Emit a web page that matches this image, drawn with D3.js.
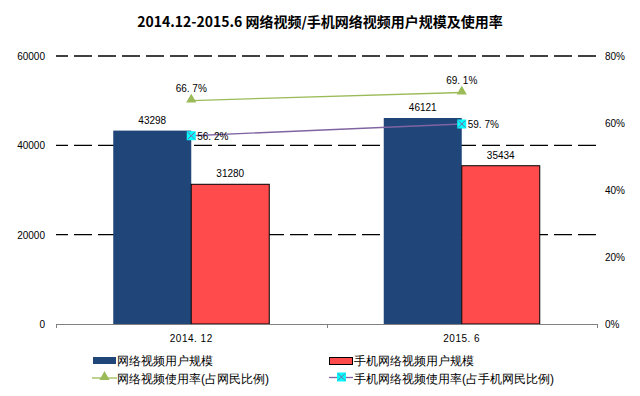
<!DOCTYPE html>
<html>
<head>
<meta charset="utf-8">
<script src="https://cdn.jsdelivr.net/npm/d3@7"></script>
<style>
  body { margin: 0; background: #fff; }
  text { font-family: "Liberation Sans", Arial, sans-serif; }
  .cjk { font-family: "Noto Sans CJK SC", sans-serif; }
</style>
</head>
<body>
<div id="chart"></div>
<script>
const categories = ["2014.12", "2015.6"];
const videoUsers = [43298, 46121];
const mobileUsers = [31280, 35434];
const videoRate = [0.667, 0.691];
const mobileRate = [0.562, 0.597];
const leftTicks = [0, 20000, 40000, 60000];
const rightTicks = [0, 0.2, 0.4, 0.6, 0.8];

const width = 640, height = 396;
const plotL = 56, plotR = 597, plotT = 56, plotB = 324;

const svg = d3.select("#chart").append("svg")
  .attr("width", width)
  .attr("height", height);

// title
svg.append("text")
  .attr("class", "cjk")
  .attr("x", 320).attr("y", 27)
  .attr("text-anchor", "middle")
  .attr("font-size", 14).attr("font-weight", "bold")
  .text("2014.12-2015.6 网络视频/手机网络视频用户规模及使用率");

const x = d3.scaleBand().domain(categories).range([plotL, plotR]);
const bw = x.bandwidth();
const x1 = d3.scaleBand().domain(["video", "mobile"]).range([bw / 2 - 78, bw / 2 + 78]);
const y = d3.scaleLinear().domain([0, 60000]).range([plotB, plotT]);
const yR = d3.scaleLinear().domain([0, 0.8]).range([plotB, plotT]);

// dashed grid lines
svg.selectAll(".grid")
  .data(leftTicks.filter(d => d > 0))
  .enter().append("line")
  .attr("x1", plotL).attr("x2", plotR)
  .attr("y1", d => y(d)).attr("y2", d => y(d))
  .attr("stroke", "#000").attr("stroke-width", 1.3)
  .attr("stroke-dasharray", "18,6")
  .attr("stroke-dashoffset", 6);

// left axis labels
svg.selectAll(".ly")
  .data(leftTicks)
  .enter().append("text")
  .attr("x", 45).attr("y", d => y(d) + 4)
  .attr("text-anchor", "end")
  .attr("font-size", 10)
  .text(d => d);

// right axis labels
svg.selectAll(".ry")
  .data(rightTicks)
  .enter().append("text")
  .attr("x", 605).attr("y", d => yR(d) + 4)
  .attr("font-size", 10)
  .text(d => Math.round(d * 100) + "%");

// bars
const bars = svg.selectAll(".grp")
  .data(categories)
  .enter().append("g")
  .attr("transform", d => `translate(${x(d)},0)`);

bars.append("rect")
  .attr("x", x1("video")).attr("width", x1.bandwidth())
  .attr("y", (d, i) => y(videoUsers[i]))
  .attr("height", (d, i) => plotB - y(videoUsers[i]))
  .attr("fill", "#1f4579");

bars.append("rect")
  .attr("x", x1("mobile")).attr("width", x1.bandwidth())
  .attr("y", (d, i) => y(mobileUsers[i]))
  .attr("height", (d, i) => plotB - y(mobileUsers[i]))
  .attr("fill", "#ff4b4b").attr("stroke", "#000").attr("stroke-width", 1);

bars.append("text")
  .attr("x", x1("video") + x1.bandwidth() / 2)
  .attr("y", (d, i) => y(videoUsers[i]) - 7)
  .attr("text-anchor", "middle").attr("font-size", 10)
  .text((d, i) => videoUsers[i]);

bars.append("text")
  .attr("x", x1("mobile") + x1.bandwidth() / 2)
  .attr("y", (d, i) => y(mobileUsers[i]) - 7)
  .attr("text-anchor", "middle").attr("font-size", 10)
  .text((d, i) => mobileUsers[i]);

// x axis
svg.append("line")
  .attr("x1", plotL).attr("x2", plotR)
  .attr("y1", plotB + 0.5).attr("y2", plotB + 0.5)
  .attr("stroke", "#808080");
svg.selectAll(".xt")
  .data([plotL, x(categories[1]), plotR])
  .enter().append("line")
  .attr("x1", d => Math.round(d) + 0.5).attr("x2", d => Math.round(d) + 0.5)
  .attr("y1", plotB).attr("y2", plotB + 4)
  .attr("stroke", "#808080");

svg.selectAll(".xl")
  .data(categories)
  .enter().append("text")
  .attr("x", d => x(d) + bw / 2)
  .attr("y", 342)
  .attr("text-anchor", "middle").attr("font-size", 10)
  .attr("letter-spacing", 0.5)
  .text(d => d.replace(".", ". "));

// lines
const cx = d => x(d) + bw / 2;
const lineV = d3.line().x(d => cx(d)).y((d, i) => yR(videoRate[i]));
const lineM = d3.line().x(d => cx(d)).y((d, i) => yR(mobileRate[i]));

svg.append("path").attr("d", lineV(categories))
  .attr("fill", "none").attr("stroke", "#9bbb59").attr("stroke-width", 1.3);
svg.append("path").attr("d", lineM(categories))
  .attr("fill", "none").attr("stroke", "#8064a2").attr("stroke-width", 1.3);

const tri = d3.symbol().type(d3.symbolTriangle).size(45);

function drawTri(g, px, py) {
  g.append("path").attr("d", tri())
    .attr("transform", `translate(${px},${py - 1})`)
    .attr("fill", "#9bbb59");
}
function drawBox(g, px, py) {
  g.append("rect")
    .attr("x", px - 4.5).attr("y", py - 4.5)
    .attr("width", 9).attr("height", 9)
    .attr("fill", "#00ffff");
  g.append("path")
    .attr("d", `M${px - 3.5},${py - 3.5}L${px + 3.5},${py + 3.5}M${px - 3.5},${py + 3.5}L${px + 3.5},${py - 3.5}`)
    .attr("stroke", "#8064a2").attr("stroke-width", 1);
}

categories.forEach((c, i) => {
  drawTri(svg, cx(c), yR(videoRate[i]));
  drawBox(svg, cx(c), yR(mobileRate[i]));
  svg.append("text")
    .attr("x", cx(c)).attr("y", yR(videoRate[i]) - 9)
    .attr("text-anchor", "middle").attr("font-size", 10)
    .text((videoRate[i] * 100).toFixed(1).replace(".", ". ") + "%");
  svg.append("text")
    .attr("x", cx(c) + 6).attr("y", yR(mobileRate[i]) + 4)
    .attr("font-size", 10)
    .text((mobileRate[i] * 100).toFixed(1).replace(".", ". ") + "%");
});

// legend
const lg = svg.append("g").attr("class", "cjk").attr("font-size", 12);
lg.append("rect").attr("x", 93).attr("y", 357).attr("width", 23).attr("height", 7)
  .attr("fill", "#1f4579");
lg.append("text").attr("x", 117).attr("y", 364.5).text("网络视频用户规模");
lg.append("rect").attr("x", 329.5).attr("y", 357.5).attr("width", 23).attr("height", 7)
  .attr("fill", "#ff4b4b").attr("stroke", "#000");
lg.append("text").attr("x", 354).attr("y", 364.5).text("手机网络视频用户规模");

lg.append("line").attr("x1", 92).attr("x2", 117).attr("y1", 378).attr("y2", 378)
  .attr("stroke", "#9bbb59").attr("stroke-width", 1.3);
drawTri(lg, 104.5, 378);
lg.append("text").attr("x", 117).attr("y", 382.5).text("网络视频使用率(占网民比例)");
lg.append("line").attr("x1", 329).attr("x2", 353).attr("y1", 377.5).attr("y2", 377.5)
  .attr("stroke", "#8064a2").attr("stroke-width", 1.3);
drawBox(lg, 341.5, 377);
lg.append("text").attr("x", 354).attr("y", 382.5).text("手机网络视频使用率(占手机网民比例)");
</script>
</body>
</html>
